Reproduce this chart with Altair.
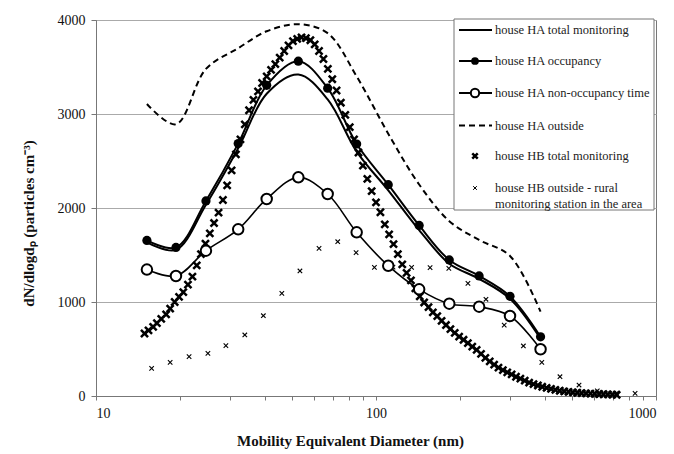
import altair as alt
import pandas as pd

# ---------------- data ----------------
ha_x = [15.2, 19.3, 24.7, 32.2, 40.7, 52.8, 67.2, 85.3, 110.6, 142.6, 182.7, 233.5, 301.0, 387.0]
ha_total = [1635, 1555, 2035, 2635, 3215, 3420, 3155, 2600, 2188, 1765, 1407, 1247, 1035, 610]
ha_occ = [1655, 1580, 2075, 2685, 3305, 3562, 3275, 2681, 2248, 1815, 1447, 1277, 1060, 630]
ha_nonocc = [1345, 1277, 1546, 1773, 2096, 2326, 2149, 1741, 1386, 1135, 982, 950, 851, 497]
ha_out = [3106, 2890, 3480, 3700, 3880, 3955, 3860, 3400, 2790, 2250, 1860, 1660, 1490, 897]

hb_x = [14.9, 15.4, 16.0, 16.5, 17.1, 17.8, 18.4, 19.1, 19.8, 20.5,
        21.3, 22.1, 22.9, 23.7, 24.6, 25.5, 26.4, 27.4, 28.4, 29.4,
        30.5, 31.6, 32.8, 34.0, 35.2, 36.5, 37.9, 39.2, 40.7, 42.2,
        43.7, 45.3, 47.0, 48.7, 50.5, 52.3, 54.2, 56.2, 58.3, 60.4,
        62.6, 64.9, 67.3, 69.8, 72.3, 74.9, 77.7, 80.6, 83.5, 86.6,
        89.8, 93.1, 96.5, 100.0, 103.7, 107.5, 111.4, 115.5, 119.7, 124.1,
        128.6, 133.3, 138.2, 143.3, 148.6, 154.0, 159.6, 165.5, 171.5, 177.8,
        184.4, 191.1, 198.1, 205.4, 212.9, 220.7, 228.8, 237.2, 245.8, 254.8,
        264.2, 273.8, 283.9, 294.3, 305.1, 316.2, 327.8, 339.8, 352.3, 365.2,
        378.6, 392.4, 406.8, 421.7, 437.1, 453.2, 469.8, 487.0, 504.8, 523.3,
        542.5, 562.3, 583.3, 604.3, 626.4, 649.4, 673.2, 697.8, 723.4]
hb_total = [665, 698, 735, 775, 820, 868, 930, 1000, 1055, 1105,
            1185, 1270, 1390, 1510, 1620, 1730, 1840, 1950, 2085, 2240,
            2400, 2570, 2730, 2890, 3040, 3150, 3240, 3330, 3400, 3470,
            3530, 3600, 3670, 3730, 3775, 3800, 3815, 3808, 3785, 3740,
            3670, 3585, 3480, 3370, 3250, 3120, 2990, 2860, 2730, 2590,
            2450, 2310, 2180, 2060, 1955, 1825, 1720, 1615, 1510, 1400,
            1310, 1230, 1145, 1060, 995, 945, 890, 850, 800, 755,
            712, 672, 632, 598, 562, 525, 490, 448, 405, 368,
            333, 302, 275, 252, 230, 205, 184, 163, 143, 127,
            112, 98, 86, 75, 66, 56, 50, 44, 39, 35,
            31, 28, 25, 23, 21, 19, 17, 15, 13]

hb_out_x = [15.8, 18.4, 21.5, 25.1, 29.1, 34.0, 39.6, 46.1, 53.5, 62.6, 73.0, 84.9, 98.7,
            115.0, 134.0, 156.0, 182.0, 213.0, 247.0, 287.0, 336.0, 391.0, 454.0, 531.0,
            617.0, 723.0, 842.0]
hb_out = [294, 358, 418, 454, 535, 649, 854, 1092, 1330, 1571, 1641, 1525, 1369,
          1370, 1369, 1365, 1358, 1199, 1029, 755, 532, 358, 205, 117,
          55, 30, 28]

x_ticks = [10, 20, 30, 40, 50, 60, 70, 80, 90, 100, 200, 300, 400, 500, 600, 700, 800, 900, 1000]
y_ticks = [0, 1000, 2000, 3000, 4000]

legend_labels = ["house HA total monitoring", "house HA occupancy", "house HA non-occupancy time",
                 "house HA outside", "house HB total monitoring",
                 "house HB outside - rural\nmonitoring station in the area"]

# ---------------- tables ----------------
ha = pd.DataFrame({"d": ha_x, "total": ha_total, "occ": ha_occ, "non": ha_nonocc, "out": ha_out})
hb = pd.DataFrame({"d": hb_x, "v": hb_total})
hbo = pd.DataFrame({"d": hb_out_x, "v": hb_out})

FONT = "Liberation Serif"
XPATH = "M-1,-1L1,1M-1,1L1,-1"

xscale = alt.Scale(type="log", domain=[10, 1000], nice=False)
yscale = alt.Scale(domain=[0, 4000], nice=False)

xaxis = alt.Axis(
    values=x_ticks, format="d",
    labelExpr="(datum.value == 10 || datum.value == 100 || datum.value == 1000) ? datum.label : ''",
    title="Mobility Equivalent Diameter (nm)", grid=False, tickSize=4, labelPadding=6,
    labelFontSize=14, titleFontSize=15, titleFontWeight="bold", labelOverlap=False,
    titleX=254, titleY=44, titleAnchor="middle", titleAlign="center", titleBaseline="middle")
yaxis = alt.Axis(
    values=y_ticks, format="d", grid=True, tickSize=5, labelFontSize=14, labelPadding=6,
    title="dN/dlogdₚ (particles cm⁻³)", titleFontSize=15, titleFontWeight="bold",
    titleX=-68, titleY=203, titleAlign="center", titleBaseline="middle", titleAngle=270)


def X(field="d"):
    return alt.X(f"{field}:Q", scale=xscale, axis=xaxis)


def Y(field):
    return alt.Y(f"{field}:Q", scale=yscale, axis=yaxis)


base_ha = alt.Chart(ha)
interp = "catmull-rom"

l_out = base_ha.mark_line(color="black", strokeWidth=2, strokeDash=[6, 4], interpolate=interp).encode(x=X(), y=Y("out"))
l_total = base_ha.mark_line(color="black", strokeWidth=2, interpolate=interp).encode(x=X(), y=Y("total"))
l_occ = base_ha.mark_line(color="black", strokeWidth=2, interpolate=interp).encode(x=X(), y=Y("occ"))
p_occ = base_ha.mark_point(shape="circle", filled=True, color="black", size=85, opacity=1).encode(x=X(), y=Y("occ"))
l_non = base_ha.mark_line(color="black", strokeWidth=1.6, interpolate=interp).encode(x=X(), y=Y("non"))
p_non = base_ha.mark_point(shape="circle", filled=False, color="black", fill="white", fillOpacity=1,
                           strokeWidth=2, size=110, opacity=1).encode(x=X(), y=Y("non"))

p_hb = alt.Chart(hb).mark_point(shape=XPATH, color="black", strokeWidth=2.5, size=50, opacity=1).encode(x=X(), y=Y("v"))
p_hbo = alt.Chart(hbo).mark_point(shape=XPATH, color="black", strokeWidth=1.1, size=20, opacity=1).encode(x=X(), y=Y("v"))

# ---------------- legend ----------------
one = pd.DataFrame({"a": [0]})
lg = alt.Chart(one)
LX0, LX1, LTX, LMX = 363, 396, 399, 379
rows = [10, 41, 73, 105.5, 136, 168]

box = lg.mark_rect(fill="white", stroke="#777", strokeWidth=1).encode(
    x=alt.value(358), x2=alt.value(558), y=alt.value(-1), y2=alt.value(190))

legend_layers = [box]
for i, dash in [(0, None), (1, None), (2, None), (3, [6, 4])]:
    kw = dict(color="black", strokeWidth=2)
    if dash:
        kw["strokeDash"] = dash
    legend_layers.append(lg.mark_rule(**kw).encode(
        x=alt.value(LX0), x2=alt.value(LX1), y=alt.value(rows[i])))
legend_layers.append(lg.mark_point(shape="circle", filled=True, color="black", size=60, opacity=1).encode(
    x=alt.value(LMX), y=alt.value(rows[1])))
legend_layers.append(lg.mark_point(shape="circle", filled=False, color="black", fill="white", fillOpacity=1,
                                   strokeWidth=2, size=70, opacity=1).encode(x=alt.value(LMX), y=alt.value(rows[2])))
legend_layers.append(lg.mark_point(shape=XPATH, color="black", strokeWidth=2.5, size=30, opacity=1).encode(
    x=alt.value(LMX), y=alt.value(rows[4])))
legend_layers.append(lg.mark_point(shape=XPATH, color="black", strokeWidth=1, size=14, opacity=1).encode(
    x=alt.value(LMX), y=alt.value(rows[5])))
for i, lab in enumerate(legend_labels):
    if "\n" in lab:
        legend_layers.append(lg.mark_text(text=lab.split("\n"), align="left", baseline="middle", font=FONT,
                                          fontSize=12.5, lineHeight=16, color="#222").encode(
            x=alt.value(LTX), y=alt.value(rows[i])))
    else:
        legend_layers.append(lg.mark_text(text=lab, align="left", baseline="middle", font=FONT,
                                          fontSize=12.5, color="#222").encode(
            x=alt.value(LTX), y=alt.value(rows[i])))

chart = alt.layer(
    l_out, l_total, l_occ, l_non, p_hbo, p_hb, p_occ, p_non, *legend_layers
).properties(
    width=560, height=376,
    autosize=alt.AutoSizeParams(type="none"),
    padding={"left": 88, "top": 12, "right": 10, "bottom": 58},
).configure_view(
    stroke="#777", strokeWidth=1
).configure_axis(
    labelFont=FONT, titleFont=FONT, labelColor="#111", titleColor="#111",
    domainColor="#777", tickColor="#777", gridColor="#aaa", gridWidth=1
)

chart.save("out.html", embed_options={"renderer": "svg", "actions": False})
